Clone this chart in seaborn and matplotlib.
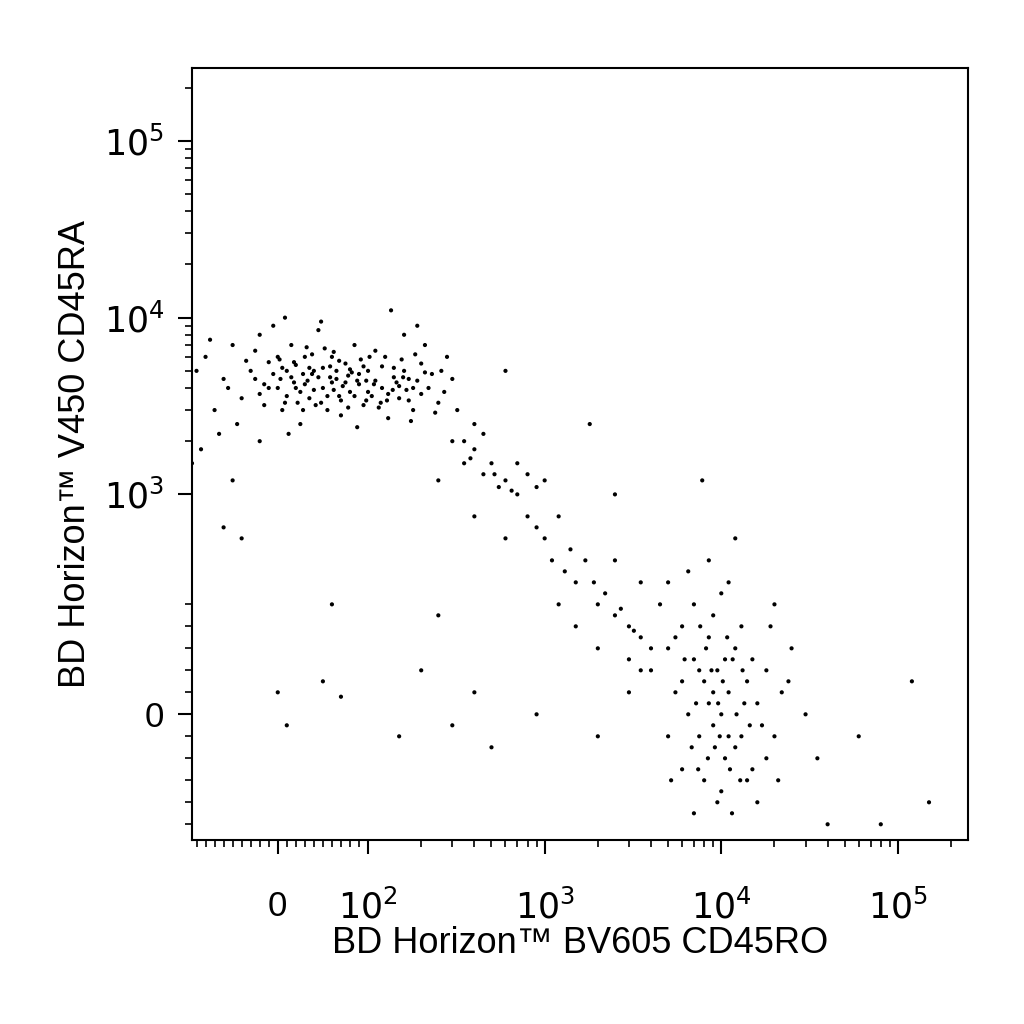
import matplotlib
matplotlib.use("Agg")
import matplotlib.pyplot as plt
import seaborn as sns
import pandas as pd
from matplotlib.ticker import FixedLocator

# Read-off events (CD45RO, CD45RA)
pop_a = [(-80,6000),(-60,4500),(-50,7000),(-40,3500),(-30,5000),(-20,8000),(-10,4000),(0,6000),(5,3000),(10,5000),
 (15,7000),(20,4000),(25,2500),(30,6000),(35,3500),(40,5000),(45,8500),(50,4000),(55,3000),(60,6000),(65,4500),
 (70,2800),(75,5500),(80,3800),(85,7000),(90,4200),(95,3200),(100,5000),(110,6500),(120,4000),(130,2700),(140,5200),
 (150,3500),(160,8000),(170,4500),(180,3000),(200,5500),(220,4000),(250,3300),(280,6000),(300,4500),(-70,3000),
 (-45,2500),(-25,6500),(-5,9000),(12,2200),(28,4800),(42,3200),(58,5300),(72,4100),(88,2400),(105,3600),(125,6000),
 (145,4300),(175,2600),(210,7000),(240,2900),(-90,5000),(-85,1800),(-65,2200),(8,10000),(48,9500),(135,11000),
 (190,9000),(320,3000),(350,2000),(400,2500),(-35,5700),(18,5600),(33,4400),(52,6700),(68,3600),(82,4900),(98,4400),
 (115,3100),(155,5800),(200,3700),(260,5000),(-75,7500),(-55,4000),(-15,3200),(3,4500),(22,3300),(38,6200),(62,3900),
 (78,4700),(92,5800),(108,4200),(128,3400),(165,3900),(185,6200),(230,4800),(270,3800),(-95,1500),(-50,1200),(-20,2000)]
core_a = [(0,4000),(5,5200),(10,3600),(15,4600),(20,5400),(25,3800),(30,4200),(35,5200),(40,3900),(45,4600),(50,5200),
 (55,3600),(60,4300),(65,5000),(70,3400),(75,4300),(80,5100),(85,3600),(90,4800),(95,5300),(100,3800),(110,4400),
 (120,5300),(130,3700),(140,4600),(150,4100),(160,5000),(170,3400),(180,4000),(-5,4800),(-10,5600),(-15,4200),
 (-20,3700),(-25,4500),(8,3300),(18,4300),(28,3000),(38,4800),(48,3300),(58,4600),(68,5700),(78,3100),(88,4400),
 (98,3400),(118,3300),(138,3900),(158,4600),(190,4400),(210,4900),(2,5800),(32,6800),(62,6400),(102,6000)]
pop_t = [(300,2000),(350,1500),(400,1800),(450,1300),(500,1500),(550,1100),(600,1200),(700,1000),(800,900),(900,1100),
 (1000,800),(1100,700),(1200,900),(1300,650),(1500,600),(1700,700),(2000,500),(2200,550),(2500,450),(3000,400),
 (3500,350),(4000,300),(600,800),(800,1300),(1500,400),(2500,700),(3000,250),(450,2200),(700,1500),(1000,1200),
 (1200,500),(2000,300),(5000,600),(250,1200),(400,900),(1800,2500),(2500,1000),(600,5000),(3500,200),
 (380,1600),(520,1300),(650,1050),(900,850),(1400,750),(1900,600),(2700,480),(3200,380)]
pop_b = [(4000,200),(5000,300),(5500,100),(6000,400),(6500,0),(7000,250),(7500,-100),(8000,150),(8500,350),(9000,-50),
 (9500,200),(10000,0),(10500,-200),(11000,100),(12000,300),(13000,-100),(14000,150),(15000,-250),(16000,50),
 (18000,200),(20000,-100),(22000,100),(25000,300),(5000,-100),(6000,-250),(7000,500),(8000,-300),(9000,450),
 (10000,-350),(11000,600),(12000,-150),(13000,400),(14000,-300),(15000,250),(17000,-50),(19000,400),(21000,-300),
 (24000,150),(6500,650),(4500,500),(3500,600),(8500,700),(12000,800),(9500,-400),(11500,-450),(7000,-450),
 (16000,-400),(20000,500),(30000,0),(35000,-200),(3000,100),(5500,350),(7500,200),(8500,50),(10500,250),(13500,50),
 (6000,150),(9000,100),(11000,-100),(14500,-50),(7800,1200),(5200,-300),(10000,550),(18000,-200),
 (6200,250),(7200,50),(8200,300),(9200,-150),(10200,150),(11200,-250),(12200,0),(8800,200),(9800,-100),(7600,400),
 (6800,-150),(10800,350),(13200,200),(8400,-200),(9600,50),(11600,250),(7400,-250),(12800,-300)]
pop_o = [(0,100),(10,-50),(50,150),(70,80),(150,-100),(200,200),(300,-50),(400,100),(-40,800),(60,500),(500,-150),
 (900,0),(2000,-100),(120000,150),(150000,-400),(60000,-100),(80000,-500),(40000,-500),(-60,850),(250,450)]

events = pop_a + core_a + pop_t + pop_b + pop_o
df = pd.DataFrame(events, columns=["CD45RO", "CD45RA"])

sns.set_theme(style="white")
plt.rcParams['font.family'] = ['Liberation Sans', 'DejaVu Sans']
plt.rcParams['text.color'] = 'black'
plt.rcParams['axes.labelcolor'] = 'black'
plt.rcParams['xtick.color'] = 'black'
plt.rcParams['ytick.color'] = 'black'
fig = plt.figure(figsize=(10.24, 10.24), dpi=100)
ax = fig.add_axes([0.1875, 0.18, 0.758, 0.754])
sns.scatterplot(data=df, x="CD45RO", y="CD45RA", s=9, color="black", edgecolor="none", ax=ax, legend=False)
ax.set_xscale("symlog", linthresh=100, linscale=0.46)
ax.set_yscale("symlog", linthresh=1000, linscale=1.12)
ax.set_xlim(-95, 2.5e5)
ax.set_ylim(-570, 2.6e5)
ax.xaxis.set_major_locator(FixedLocator([0, 1e2, 1e3, 1e4, 1e5]))
ax.set_xticklabels(["0", "$10^2$", "$10^3$", "$10^4$", "$10^5$"])
ax.yaxis.set_major_locator(FixedLocator([0, 1e3, 1e4, 1e5]))
ax.set_yticklabels(["0", "$10^3$", "$10^4$", "$10^5$"])
xmin = [-90,-80,-70,-60,-50,-40,-30,-20,-10,10,20,30,40,50,60,70,80,90] + \
       [m*10**d for d in (2,3,4,5) for m in range(2,10)]
ax.xaxis.set_minor_locator(FixedLocator(xmin))
ymin = [-500,-400,-300,-200,-100,100,200,300,400,500] + [m*10**d for d in (3,4,5) for m in range(2,10)]
ax.yaxis.set_minor_locator(FixedLocator(ymin))
ax.tick_params(which="major", direction="out", length=10, width=1.5, labelsize=25, bottom=True, left=True)
ax.tick_params(axis="x", which="major", pad=26)
ax.tick_params(axis="y", which="major", pad=10)
ax.tick_params(which="minor", direction="out", length=5, width=1.2, bottom=True, left=True)
for sp in ax.spines.values():
    sp.set_color("black"); sp.set_linewidth(1.5)
ax.set_xlabel("BD Horizon™ BV605 CD45RO", fontsize=26, labelpad=0)
ax.set_ylabel("BD Horizon™ V450 CD45RA", fontsize=26, labelpad=8)
fig.savefig("out.png", dpi=100, facecolor="white")
